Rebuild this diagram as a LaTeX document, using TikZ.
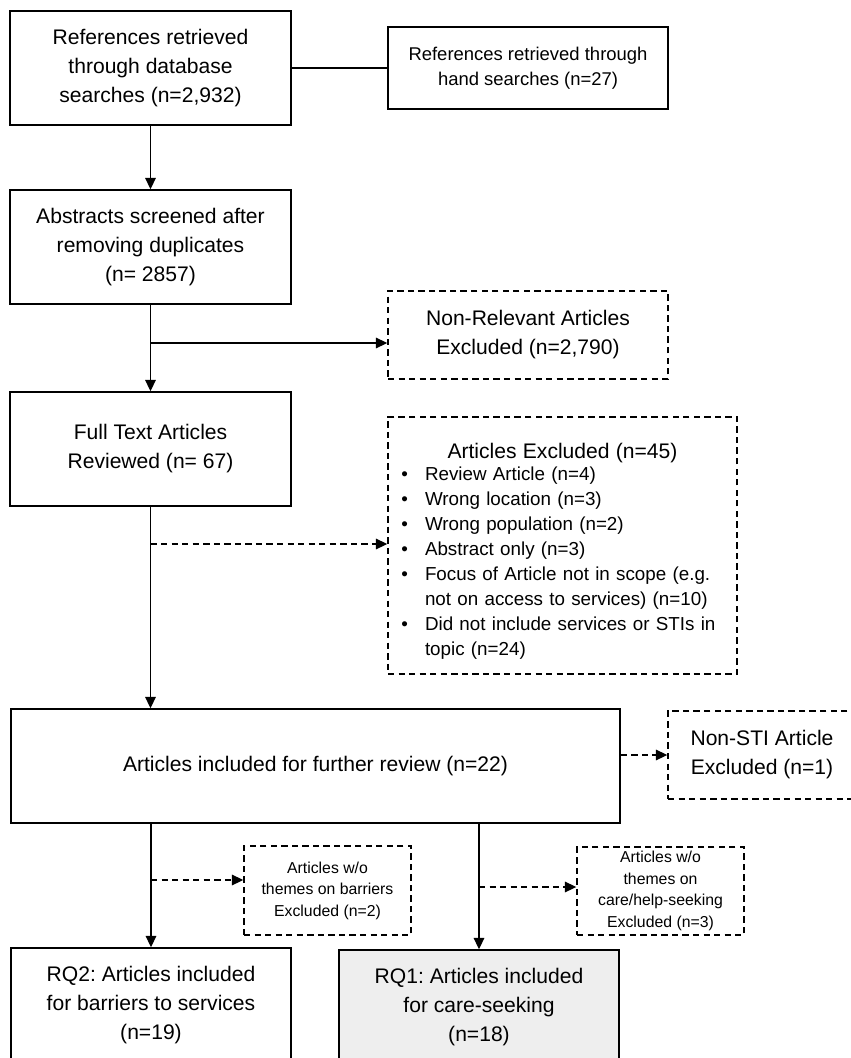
\documentclass[tikz,border=0pt]{standalone}
\usepackage{fontspec}
\setmainfont{Liberation Sans}
\usepackage{xcolor}
\usetikzlibrary{arrows.meta}
\definecolor{rqfill}{HTML}{EEEEEE}
\newlength\pxu
\setlength\pxu{0.02cm}

\begin{document}
\frenchspacing
\begin{tikzpicture}[x=0.02cm, y=-0.02cm,
  box/.style={draw, line width=0.8pt, align=center, inner sep=0pt},
  exbox/.style={box, dash pattern=on 3.6pt off 2.4pt},
  big/.style={font=\fontsize{12}{16.5}\selectfont},
  mid/.style={font=\fontsize{10.5}{14.2}\selectfont},
  small/.style={font=\fontsize{9}{12.2}\selectfont},
  arr/.style={line width=0.8pt, -{Triangle[length=6.5pt,width=6pt]}},
  darr/.style={arr, dash pattern=on 3.6pt off 2.4pt}]

\useasboundingbox (0,0) rectangle (851,1058);

% Identification
\node[box, big, minimum width=281\pxu, minimum height=114\pxu] (db) at (150.5,68) {References retrieved\\through database\\searches (n=2,932)};
\node[box, mid, minimum width=280\pxu, minimum height=82\pxu] (hand) at (528,68) {References retrieved through\\hand searches (n=27)};

% Screening
\node[box, big, minimum width=281\pxu, minimum height=114\pxu] (abs) at (150.5,247) {Abstracts screened after\\removing duplicates\\(n= 2857)};
\node[exbox, big, minimum width=280\pxu, minimum height=88\pxu] (nonrel) at (528,335) {Non-Relevant Articles\\Excluded (n=2,790)};

% Eligibility
\node[box, big, minimum width=281\pxu, minimum height=114\pxu] (full) at (150.5,449) {Full Text Articles\\Reviewed (n= 67)};
\node[exbox, minimum width=349\pxu, minimum height=257\pxu, text width=333\pxu, align=left,
  font=\fontsize{10.7}{14.2}\selectfont] (excl) at (562.5,545.5) {%
  {\centering\fontsize{12}{16}\selectfont\rule{0pt}{15pt}Articles Excluded (n=45)\par}
  \vspace{-1.6pt}
  \begin{list}{\textbullet}{\setlength\leftmargin{29\pxu}\setlength\labelsep{17\pxu}%
    \setlength\labelwidth{12\pxu}\setlength\itemsep{0pt}\setlength\parsep{0pt}%
    \setlength\topsep{0pt}\setlength\partopsep{0pt}}
  \item Review Article (n=4)
  \item Wrong location (n=3)
  \item Wrong population (n=2)
  \item Abstract only (n=3)
  \item Focus of Article not in scope (e.g.\\not on access to services) (n=10)
  \item Did not include services or STIs in\\topic (n=24)
  \end{list}};

% Included
\node[box, big, minimum width=609\pxu, minimum height=114\pxu] (incl) at (315.5,766) {Articles included for further review (n=22)};
\node[exbox, big, minimum width=188\pxu, minimum height=88\pxu] (nonsti) at (762,755) {Non-STI Article\\Excluded (n=1)};
\node[exbox, small, minimum width=167\pxu, minimum height=89\pxu] (bar) at (327.5,890.5) {Articles w/o\\themes on barriers\\Excluded (n=2)};
\node[exbox, small, minimum width=167\pxu, minimum height=88\pxu] (care) at (660.5,891) {Articles w/o\\themes on\\care/help-seeking\\Excluded (n=3)};
\node[box, big, minimum width=280\pxu, minimum height=114\pxu] (rq2) at (151,1005) {RQ2: Articles included\\for barriers to services\\(n=19)};
\node[box, big, fill=rqfill, minimum width=280\pxu, minimum height=114\pxu] (rq1) at (479,1007) {RQ1: Articles included\\for care-seeking\\(n=18)};

% Branch points
\coordinate (s1) at (150.5,343);
\coordinate (s2) at (150.5,544);
\coordinate (s3) at (151,880);
\coordinate (s4) at (479,887);

% Connectors
\draw[line width=0.8pt] (db) -- (hand);
\draw[arr] (db) -- (abs);
\draw[arr] (abs) -- (full);
\draw[arr] (s1) -- (s1 -| nonrel.west);
\draw[arr] (full) -- (full |- incl.north);
\draw[darr] (s2) -- (s2 -| excl.west);
\draw[darr] (incl.east |- nonsti) -- (nonsti.west);
\draw[arr] (incl.south -| rq2) -- (rq2);
\draw[arr] (incl.south -| rq1) -- (rq1);
\draw[darr] (s3) -- (s3 -| bar.west);
\draw[darr] (s4) -- (s4 -| care.west);
\end{tikzpicture}
\end{document}
